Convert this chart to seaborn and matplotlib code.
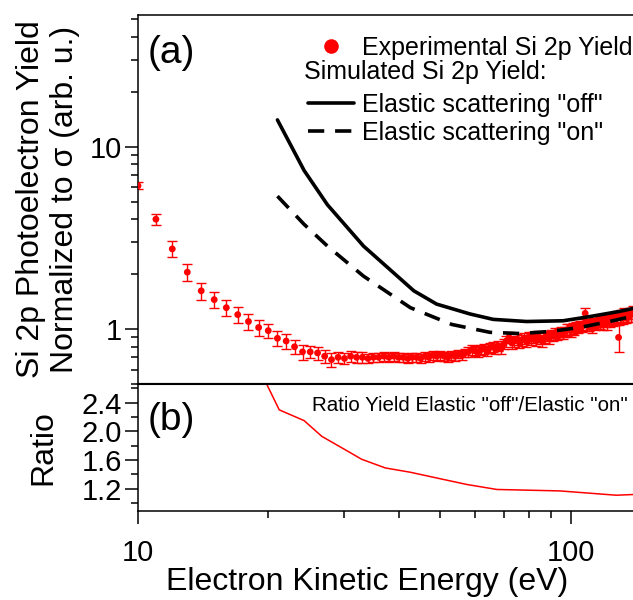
import numpy as np
import pandas as pd
import matplotlib
matplotlib.use("Agg")
import matplotlib.pyplot as plt
from matplotlib.lines import Line2D
from matplotlib.ticker import (LogLocator, NullFormatter, FixedLocator, MultipleLocator,
                               FixedFormatter, FormatStrFormatter, FuncFormatter)
import seaborn as sns

# ---------------- data ----------------
exp_energy = [10, 11, 12, 13, 14, 15, 16, 17, 18, 19,
              20, 21, 22, 23, 24, 25, 26, 27, 28, 29,
              30, 31, 32, 33, 34, 35, 36, 37, 38, 39,
              40, 41, 42, 43, 44, 45, 46, 47, 48, 49,
              50, 51, 52, 53, 54, 55, 56, 57, 58, 59,
              60, 61, 62, 63, 64, 65, 66, 67, 68, 69,
              70, 71, 72, 73, 74, 75, 76, 77, 78, 79,
              80, 81, 82, 83, 84, 85, 86, 87, 88, 89,
              90, 91, 92, 93, 94, 95, 96, 97, 98, 99,
              100, 101, 102, 103, 104, 105, 106, 107, 108, 109,
              110, 111, 112, 113, 114, 115, 116, 117, 118, 119,
              120, 121, 122, 123, 124, 125, 126, 127, 128, 129,
              130, 131, 132, 133, 134, 135, 136, 137, 138, 139]
exp_yield = [6.10, 4.00, 2.75, 2.05, 1.62, 1.45, 1.31, 1.20, 1.10, 1.02,
             0.98, 0.89, 0.86, 0.80, 0.75, 0.75, 0.74, 0.71, 0.68, 0.70,
             0.69, 0.71, 0.70, 0.70, 0.69, 0.70, 0.70, 0.71, 0.70, 0.71,
             0.70, 0.70, 0.69, 0.70, 0.70, 0.69, 0.71, 0.70, 0.72, 0.71,
             0.72, 0.71, 0.70, 0.72, 0.71, 0.73, 0.72, 0.74, 0.75, 0.77,
             0.76, 0.75, 0.77, 0.78, 0.76, 0.79, 0.80, 0.78, 0.81, 0.78,
             0.83, 0.86, 0.90, 0.84, 0.86, 0.88, 0.85, 0.87, 0.89, 0.86,
             0.90, 0.88, 0.90, 0.87, 0.91, 0.89, 0.86, 0.90, 0.92, 0.89,
             0.93, 0.92, 0.95, 0.93, 0.94, 0.96, 0.94, 0.97, 0.99, 1.00,
             0.98, 1.01, 1.00, 1.03, 1.02, 1.04, 1.03, 1.06, 1.22, 1.05,
             1.04, 1.07, 1.02, 1.08, 1.06, 1.10, 1.11, 1.08, 1.12, 1.07,
             1.10, 1.07, 1.13, 1.11, 1.14, 1.12, 1.15, 1.13, 1.17, 0.90,
             1.16, 1.18, 1.15, 1.21, 1.17, 1.19, 1.18, 1.22, 1.20, 1.24]
exp_error = [0.28, 0.26, 0.27, 0.22, 0.17, 0.14, 0.13, 0.12, 0.11, 0.10,
             0.09, 0.08, 0.08, 0.07, 0.07, 0.06, 0.06, 0.06, 0.06, 0.05,
             0.05, 0.05, 0.05, 0.05, 0.04, 0.04, 0.04, 0.04, 0.04, 0.04,
             0.04, 0.04, 0.04, 0.04, 0.04, 0.04, 0.04, 0.04, 0.04, 0.04,
             0.04, 0.04, 0.04, 0.04, 0.04, 0.04, 0.04, 0.04, 0.05, 0.05,
             0.05, 0.05, 0.05, 0.05, 0.05, 0.05, 0.05, 0.05, 0.05, 0.05,
             0.05, 0.06, 0.06, 0.06, 0.06, 0.06, 0.06, 0.06, 0.06, 0.06,
             0.06, 0.06, 0.06, 0.06, 0.06, 0.06, 0.06, 0.06, 0.06, 0.06,
             0.06, 0.06, 0.06, 0.06, 0.06, 0.06, 0.06, 0.06, 0.07, 0.07,
             0.07, 0.07, 0.07, 0.07, 0.07, 0.07, 0.07, 0.07, 0.08, 0.07,
             0.07, 0.07, 0.07, 0.07, 0.07, 0.08, 0.08, 0.08, 0.08, 0.08,
             0.08, 0.08, 0.08, 0.08, 0.08, 0.08, 0.08, 0.08, 0.09, 0.15,
             0.09, 0.09, 0.09, 0.09, 0.09, 0.09, 0.09, 0.09, 0.10, 0.10]

off_energy = [21.0, 24.2, 27.4, 33.2, 43.4, 49.0, 58.5, 66.2, 79.1, 96.0, 110.6, 129.7, 140.0]
off_yield = [14.0, 7.4, 4.8, 2.85, 1.62, 1.37, 1.21, 1.13, 1.10, 1.11, 1.17, 1.25, 1.30]

on_energy = [21.0, 24.2, 27.4, 33.2, 42.6, 53.1, 65.0, 76.3, 89.5, 105.0, 125.0, 140.0]
on_yield = [5.35, 3.75, 2.85, 1.95, 1.31, 1.06, 0.96, 0.945, 0.97, 1.02, 1.11, 1.18]

ratio_energy = [19.5, 21.2, 24.2, 26.6, 29.4, 32.9, 37.3, 42.6, 49.9, 57.5, 67.5, 94.4, 127.4, 140.0]
ratio_value = [2.75, 2.30, 2.15, 1.93, 1.78, 1.61, 1.49, 1.43, 1.34, 1.26, 1.19, 1.17, 1.11, 1.12]

y_ticks_ratio = [1.2, 1.6, 2.0, 2.4]

exp_df = pd.DataFrame({"E": exp_energy, "Y": exp_yield, "err": exp_error})
off_df = pd.DataFrame({"E": off_energy, "Y": off_yield})
on_df = pd.DataFrame({"E": on_energy, "Y": on_yield})
ratio_df = pd.DataFrame({"E": ratio_energy, "R": ratio_value})

# ---------------- style ----------------
sns.set_theme(style="ticks")
plt.rcParams["font.family"] = ["Liberation Sans", "DejaVu Sans"]
plt.rcParams["axes.linewidth"] = 1.1
plt.rcParams["axes.edgecolor"] = "black"
plt.rcParams["xtick.color"] = "black"
plt.rcParams["ytick.color"] = "black"
plt.rcParams["text.color"] = "black"
plt.rcParams["axes.labelcolor"] = "black"

TICK_FS = 21
LABEL_FS = 23
LEG_FS = 18
PANEL_FS = 28

W, H = 633, 600
fig = plt.figure(figsize=(W / 100, H / 100), dpi=100)

left = 138 / W
right = 1.0
ax_top = fig.add_axes([left, 1 - 384 / H, right - left, (384 - 15) / H])
ax_bot = fig.add_axes([left, 1 - 511 / H, right - left, (511 - 384) / H], sharex=ax_top)

# ---------------- panel (a) ----------------
ax_top.errorbar(exp_df["E"], exp_df["Y"], yerr=exp_df["err"], fmt="none",
                ecolor="red", elinewidth=1.0, capsize=3.6, capthick=1.0, zorder=2)
sns.scatterplot(data=exp_df, x="E", y="Y", ax=ax_top, color="red", s=24,
                edgecolor="none", linewidth=0, zorder=3, legend=False)
sns.lineplot(data=off_df, x="E", y="Y", ax=ax_top, color="black", lw=2.6,
             zorder=4, legend=False, estimator=None, sort=False)
sns.lineplot(data=on_df, x="E", y="Y", ax=ax_top, color="black", lw=2.6,
             zorder=4, legend=False, estimator=None, sort=False)
ax_top.lines[-1].set_dashes((4.5, 3.0))

ax_top.set_xscale("log")
ax_top.set_yscale("log")
ax_top.set_xlim(10, 139.3)
ax_top.set_ylim(0.5, 52.6)
ax_top.set_xlabel("")
ax_top.set_ylabel("Si 2p Photoelectron Yield\nNormalized to σ (arb. u.)",
                  fontsize=LABEL_FS, labelpad=7, linespacing=1.18)
ax_top.yaxis.set_major_locator(FixedLocator([1, 10]))
ax_top.yaxis.set_major_formatter(FixedFormatter(["1", "10"]))
ax_top.yaxis.set_minor_locator(LogLocator(base=10, subs=np.arange(2, 10)))
ax_top.yaxis.set_minor_formatter(NullFormatter())
ax_top.tick_params(axis="y", which="major", direction="out", length=9.5, width=1.1,
                   labelsize=TICK_FS, pad=2)
ax_top.tick_params(axis="y", which="minor", direction="out", length=5, width=1.1)
ax_top.tick_params(axis="x", which="both", bottom=False, labelbottom=False, length=0)
ax_top.spines["right"].set_visible(False)
ax_top.spines["bottom"].set_linewidth(1.5)

ax_top.text(0.02, 0.947, "(a)", transform=ax_top.transAxes, fontsize=PANEL_FS,
            ha="left", va="top")

handles = [
    Line2D([], [], ls="none", marker="o", color="red", markersize=10.5, markeredgewidth=0),
    Line2D([], [], ls="none", marker=None, color="none"),
    Line2D([], [], color="black", lw=2.6),
    Line2D([], [], color="black", lw=2.6, dashes=(4.5, 3.0)),
]
labels = ["Experimental Si 2p Yield", " ", 'Elastic scattering "off"', 'Elastic scattering "on"']
leg = ax_top.legend(handles, labels, loc="upper left", bbox_to_anchor=(0.343, 0.944),
                    frameon=False, fontsize=LEG_FS, handlelength=1.85, handletextpad=0.3,
                    labelspacing=0.18, borderpad=0, borderaxespad=0, numpoints=1)
ax_top.text(304 / W, 1 - 72 / H, "Simulated Si 2p Yield:", transform=fig.transFigure,
            fontsize=LEG_FS, ha="left", va="center")

# ---------------- panel (b) ----------------
sns.lineplot(data=ratio_df, x="E", y="R", ax=ax_bot, color="red", lw=1.1,
             legend=False, estimator=None, sort=False)
ax_bot.set_xscale("log")
ax_bot.set_xlim(10, 139.3)
ax_bot.set_ylim(0.89, 2.66)
ax_bot.yaxis.set_major_locator(FixedLocator(y_ticks_ratio))
ax_bot.yaxis.set_major_formatter(FormatStrFormatter("%.1f"))
ax_bot.yaxis.set_minor_locator(MultipleLocator(0.2))
ax_bot.tick_params(axis="y", which="major", direction="out", length=9.5, width=1.1,
                   labelsize=TICK_FS, pad=2)
ax_bot.tick_params(axis="y", which="minor", direction="out", length=5, width=1.1)
ax_bot.xaxis.set_major_locator(LogLocator(base=10))
ax_bot.xaxis.set_minor_locator(LogLocator(base=10, subs=np.arange(2, 10)))
ax_bot.xaxis.set_minor_formatter(NullFormatter())
ax_bot.xaxis.set_major_formatter(FuncFormatter(lambda v, p: f"{v:g}"))
ax_bot.tick_params(axis="x", which="major", direction="out", length=9, width=1.1,
                   labelsize=TICK_FS, pad=11)
ax_bot.tick_params(axis="x", which="minor", direction="out", length=5, width=1.1)
ax_bot.spines["right"].set_visible(False)
ax_bot.spines["top"].set_linewidth(1.5)
ax_bot.set_ylabel("Ratio", fontsize=LABEL_FS, labelpad=17)
ax_bot.set_xlabel("Electron Kinetic Energy (eV)", fontsize=LABEL_FS, labelpad=0)
ax_bot.xaxis.set_label_coords(0.463, -0.44)
ax_bot.xaxis.label.set_va("top")

ax_bot.text(0.02, 0.86, "(b)", transform=ax_bot.transAxes, fontsize=PANEL_FS,
            ha="left", va="top")
ax_bot.text(0.99, 0.83, 'Ratio Yield Elastic "off"/Elastic "on"', transform=ax_bot.transAxes,
            fontsize=14.8, ha="right", va="center")

fig.savefig("out.png", dpi=100)
